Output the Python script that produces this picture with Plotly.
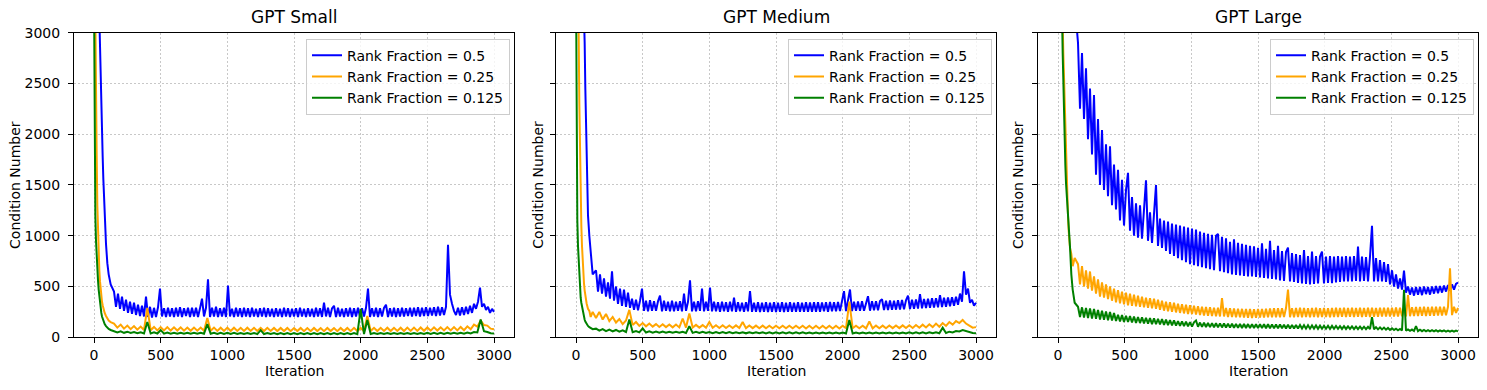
import plotly.graph_objects as go

# iterations: dense start, then a coarse grid (orange/green) and a finer one for the noisier curves
head = [0, 5, 10, 15, 20, 25, 30, 35, 40, 45, 50, 55, 60, 65, 70, 75, 80, 90, 100, 110, 125]
iters = head + list(range(150, 3001, 25))
iters_fine = head + list(range(150, 3001, 15))

# ---- GPT Small ----
small_050 = [9000, 8000, 7000, 6200, 5400, 4700, 4100, 3600, 3150, 2800, 2450, 2200, 2000, 1780, 1560, 1380, 1200, 920, 730, 620, 520,
             450, 300, 430, 280, 400, 260, 370, 240, 350, 230,
             340, 220, 320, 210, 310, 205, 400, 200, 300, 195,
             290, 200, 295, 480, 205, 285, 200, 290, 205, 285,
             200, 290, 205, 295, 200, 285, 210, 290, 200, 290,
             205, 290, 200, 285, 380, 205, 290, 570, 200, 290,
             205, 300, 200, 285, 205, 290, 200, 510, 205, 280,
             200, 290, 205, 285, 200, 290, 205, 285, 200, 290,
             205, 280, 200, 285, 205, 290, 200, 285, 205, 280,
             200, 285, 205, 280, 200, 290, 205, 285, 200, 280,
             205, 285, 200, 290, 205, 280, 200, 285, 205, 280,
             200, 290, 205, 285, 200, 340, 205, 290, 200, 285,
             310, 200, 290, 205, 280, 200, 285, 205, 290, 200,
             285, 205, 290, 200, 285, 205, 290, 480, 200, 285,
             205, 290, 200, 285, 205, 290, 320, 200, 285, 205,
             290, 200, 285, 205, 290, 205, 285, 210, 290, 205,
             290, 210, 295, 205, 290, 210, 295, 210, 290, 215,
             295, 210, 300, 215, 295, 220, 300, 910, 420, 330,
             260, 220, 290, 215, 295, 220, 300, 230, 310, 240,
             330, 280, 350, 490, 300, 330, 270, 300, 240, 280,
             250]
small_025 = [4500, 3600, 3000, 2350, 1800, 1300, 1000, 800, 660, 550, 460, 400, 350, 315, 285, 260, 240, 210, 185, 165, 150,
             135, 95, 125, 85, 115, 80, 110, 75, 105, 72,
             290, 70, 102, 68, 100, 68, 100, 66, 98, 66,
             98, 65, 96, 64, 96, 65, 95, 64, 190, 64,
             95, 63, 94, 63, 95, 62, 94, 63, 93, 62,
             94, 62, 93, 62, 92, 61, 93, 62, 92, 61,
             92, 61, 92, 60, 91, 61, 92, 60, 91, 60,
             92, 61, 91, 60, 92, 61, 91, 60, 92, 61,
             92, 60, 93, 61, 92, 60, 210, 62, 93, 61,
             93, 62, 94, 61, 93, 62, 94, 62, 95, 63,
             95, 63, 96, 64, 97, 65, 98, 66, 98, 67,
             100, 68, 100, 68, 102, 70, 108, 78, 125, 105,
             165, 120, 115, 85, 80]
small_0125 = [3400, 1600, 1200, 950, 780, 650, 560, 470, 400, 340, 280, 240, 205, 180, 160, 145, 130, 110, 95, 82, 72,
              62, 48, 58, 44, 55, 42, 52, 40, 50, 38,
              150, 38, 48, 37, 70, 36, 46, 36, 45, 35,
              45, 35, 44, 34, 44, 34, 44, 34, 130, 34,
              44, 33, 43, 33, 43, 33, 43, 32, 42, 32,
              42, 32, 42, 32, 70, 32, 42, 32, 42, 31,
              42, 31, 41, 31, 41, 31, 41, 31, 41, 31,
              41, 31, 41, 31, 41, 31, 41, 31, 41, 31,
              41, 31, 42, 31, 280, 32, 170, 32, 42, 32,
              42, 32, 42, 32, 42, 32, 42, 32, 42, 32,
              42, 32, 42, 33, 43, 33, 43, 33, 43, 33,
              44, 34, 44, 34, 45, 35, 47, 38, 52, 48,
              175, 60, 52, 40, 38]

# ---- GPT Medium ----
medium_050 = [9000, 8200, 7500, 6800, 6200, 5600, 5100, 4700, 4300, 3900, 3600, 3400, 3200, 2900, 2450, 2050, 1700, 1200, 1000, 860, 620,
              660, 450, 620, 430, 580, 400, 540, 380, 650, 360,
              500, 330, 480, 310, 470, 300, 440, 290, 380, 270,
              370, 265, 360, 480, 260, 360, 255, 365, 260, 355,
              260, 355, 410, 255, 360, 260, 350, 255, 360, 255,
              350, 260, 355, 255, 430, 260, 350, 560, 255, 350,
              255, 355, 260, 480, 255, 350, 260, 490, 255, 350,
              255, 345, 250, 350, 255, 345, 250, 350, 255, 390,
              250, 345, 255, 340, 250, 345, 255, 455, 250, 340,
              250, 345, 248, 340, 250, 345, 248, 340, 250, 345,
              248, 340, 250, 345, 248, 340, 250, 345, 250, 340,
              250, 345, 250, 340, 252, 345, 250, 342, 252, 345,
              252, 345, 252, 342, 255, 345, 252, 348, 255, 345,
              255, 348, 258, 350, 455, 258, 350, 470, 258, 350,
              260, 352, 260, 355, 262, 350, 405, 262, 355, 265,
              355, 265, 358, 375, 268, 360, 268, 362, 270, 360,
              272, 365, 272, 368, 275, 365, 410, 278, 370, 280,
              372, 282, 425, 285, 378, 288, 380, 290, 385, 292,
              385, 295, 415, 298, 390, 300, 392, 305, 395, 310,
              400, 320, 430, 350, 650, 420, 480, 340, 370, 310,
              340]
medium_025 = [6000, 5000, 4200, 3500, 3000, 2300, 1800, 1400, 1100, 900, 730, 620, 530, 460, 400, 360, 330, 280, 260, 200, 250,
              190, 250, 175, 230, 160, 200, 145, 180, 130, 165,
              270, 120, 150, 112, 140, 108, 135, 105, 130, 102,
              128, 100, 126, 98, 125, 97, 185, 96, 235, 96,
              122, 95, 120, 94, 150, 93, 118, 92, 118, 92,
              117, 91, 117, 91, 150, 90, 116, 90, 115, 89,
              115, 89, 114, 88, 114, 88, 114, 88, 114, 88,
              114, 88, 113, 87, 113, 87, 113, 87, 113, 87,
              113, 87, 113, 87, 114, 88, 350, 88, 114, 88,
              114, 88, 155, 88, 115, 89, 115, 89, 116, 90,
              116, 90, 117, 91, 118, 92, 120, 94, 124, 97,
              128, 100, 135, 104, 140, 112, 150, 125, 160, 140,
              170, 135, 115, 95, 100]
medium_0125 = [3500, 1500, 1150, 900, 730, 580, 470, 390, 340, 300, 260, 225, 195, 172, 155, 140, 128, 112, 100, 90, 80,
               85, 65, 80, 60, 75, 57, 72, 55, 68, 52,
               175, 50, 62, 48, 88, 47, 58, 46, 57, 45,
               56, 45, 55, 44, 55, 44, 54, 43, 110, 43,
               53, 42, 53, 42, 52, 41, 52, 41, 51, 40,
               51, 40, 50, 40, 50, 39, 50, 39, 49, 39,
               49, 38, 49, 38, 48, 38, 48, 38, 48, 38,
               48, 38, 48, 37, 47, 37, 47, 37, 47, 37,
               47, 37, 47, 37, 47, 37, 170, 37, 47, 37,
               47, 37, 47, 37, 47, 37, 47, 37, 47, 37,
               47, 37, 47, 37, 48, 38, 48, 38, 48, 38,
               49, 39, 50, 40, 95, 42, 55, 48, 62, 58,
               72, 60, 52, 42, 40]

# ---- GPT Large ----
large_050 = [12000, 11500, 11000, 10500, 10000, 9500, 9000, 8600, 8200, 7800, 7400, 7000, 6600, 6200, 5900, 5600, 5300, 4700, 4200, 3800, 3300,
             2900, 2250, 2800, 2150, 2650, 1950, 2450, 1800, 2385, 1600,
             2150, 1500, 2040, 1450, 1900, 1390, 1880, 1300, 1700, 1260,
             1650, 1150, 1550, 1100, 1450, 1620, 1050, 1380, 1000, 1320,
             980, 1300, 970, 1250, 1545, 950, 1230, 930, 1200, 1500,
             900, 1170, 880, 1150, 850, 1140, 820, 1120, 800, 1110,
             780, 1100, 760, 1090, 740, 1080, 720, 1070, 710, 1060,
             700, 1040, 690, 1030, 680, 1020, 670, 1010, 660, 1000,
             1018, 650, 990, 640, 975, 630, 940, 620, 965, 615,
             930, 610, 920, 605, 910, 600, 900, 600, 895, 595,
             880, 590, 925, 585, 870, 580, 950, 575, 860, 570,
             900, 560, 850, 555, 840, 883, 550, 830, 545, 820,
             535, 810, 530, 860, 525, 800, 520, 844, 525, 800,
             530, 795, 844, 530, 795, 535, 800, 532, 795, 540,
             800, 545, 795, 550, 800, 550, 795, 550, 800, 555,
             893, 550, 795, 555, 790, 550, 795, 1097, 550, 780,
             550, 760, 550, 740, 545, 720, 520, 660, 500, 620,
             480, 580, 470, 657, 440, 500, 420, 490, 410, 495,
             420, 495, 415, 500, 425, 495, 420, 500, 430, 505,
             435, 505, 440, 510, 450, 515, 460, 520, 470, 525,
             540]
large_025 = [9000, 8000, 7000, 6000, 5000, 4200, 3500, 3100, 2800, 2550, 2300, 2000, 1750, 1550, 1350, 1200, 1050, 880, 820, 700, 780,
             720, 520, 700, 500, 660, 480, 648, 460, 600, 430,
             570, 400, 540, 390, 520, 375, 500, 360, 480, 345,
             465, 335, 450, 325, 440, 315, 430, 310, 420, 305,
             410, 300, 400, 295, 390, 290, 385, 285, 380, 280,
             370, 270, 360, 262, 350, 255, 345, 250, 340, 245,
             330, 240, 325, 235, 320, 230, 315, 228, 310, 225,
             305, 220, 300, 215, 298, 212, 295, 210, 292, 208,
             290, 205, 385, 205, 288, 200, 285, 200, 283, 198,
             282, 196, 280, 195, 278, 192, 278, 190, 276, 192,
             278, 194, 280, 195, 282, 196, 284, 198, 285, 198,
             286, 198, 285, 200, 288, 470, 198, 286, 198, 288,
             200, 290, 198, 288, 200, 286, 198, 288, 200, 290,
             198, 286, 200, 288, 200, 285, 198, 288, 200, 290,
             200, 288, 202, 290, 200, 288, 202, 290, 200, 288,
             202, 290, 200, 288, 202, 292, 200, 290, 202, 288,
             202, 290, 204, 292, 205, 290, 204, 292, 205, 294,
             205, 292, 206, 294, 205, 415, 208, 296, 210, 298,
             210, 298, 212, 300, 210, 298, 212, 300, 212, 300,
             214, 300, 215, 302, 216, 300, 680, 218, 300, 240,
             290]
large_0125 = [8000, 7000, 6000, 5200, 4500, 3800, 3200, 2800, 2450, 2150, 1900, 1700, 1520, 1420, 1320, 1250, 1150, 890, 620, 470, 340,
              300, 200, 295, 195, 290, 190, 285, 185, 280, 182,
              270, 175, 262, 172, 255, 168, 248, 165, 240, 160,
              222, 155, 218, 152, 212, 150, 208, 146, 204, 142,
              200, 140, 196, 137, 192, 134, 188, 130, 186, 128,
              182, 126, 178, 122, 174, 120, 170, 117, 166, 115,
              160, 112, 157, 110, 154, 108, 150, 106, 148, 165,
              104, 145, 102, 143, 101, 141, 100, 139, 99, 138,
              98, 137, 97, 135, 96, 134, 95, 133, 94, 132,
              93, 131, 92, 131, 92, 130, 91, 130, 91, 129,
              90, 129, 90, 128, 89, 128, 89, 127, 88, 126,
              88, 125, 88, 124, 87, 123, 87, 122, 86, 121,
              86, 120, 86, 119, 85, 118, 85, 117, 85, 116,
              84, 115, 84, 114, 84, 113, 83, 112, 83, 111,
              83, 110, 82, 109, 82, 108, 82, 107, 81, 106,
              81, 105, 80, 104, 80, 103, 80, 197, 79, 100,
              78, 98, 77, 95, 75, 92, 73, 88, 71, 85,
              69, 82, 67, 467, 65, 78, 63, 76, 62, 111,
              60, 74, 60, 72, 59, 71, 58, 70, 58, 69,
              57, 68, 57, 67, 56, 66, 56, 66, 55, 65,
              58]

titles = ["GPT Small", "GPT Medium", "GPT Large"]
panels = [[small_050, small_025, small_0125],
          [medium_050, medium_025, medium_0125],
          [large_050, large_025, large_0125]]
fractions = ["0.5", "0.25", "0.125"]
colors = ["#0000ff", "#ffa500", "#008000"]
x_ticks = [0, 500, 1000, 1500, 2000, 2500, 3000]
y_ticks = [0, 500, 1000, 1500, 2000, 2500, 3000]

W, H = 1487, 390
x_px = [(74, 514), (556, 996), (1038, 1478)]


def py(y):
    # screen row -> paper fraction (the page comes out ~4% squashed vertically, offset ~8px)
    return 1 - ((y - 8.4) / 0.957) / H


y_dom = [py(337), py(33)]
FONT = "DejaVu Sans"

fig = go.Figure()
annotations = []
for i, series in enumerate(panels):
    n = "" if i == 0 else str(i + 1)
    for frac, col, vals in zip(fractions, colors, series):
        xs = iters_fine if len(vals) == len(iters_fine) else iters
        assert len(vals) == len(xs), (titles[i], frac, len(vals))
        fig.add_trace(go.Scatter(
            x=xs, y=vals, mode="lines", line=dict(color=col, width=2),
            name=f"Rank Fraction = {frac}", xaxis="x" + n, yaxis="y" + n,
            legend="legend" + n))

    left, right = x_px[i]
    axis_common = dict(showline=True, mirror=True, linecolor="black", linewidth=1,
                       ticks="outside", ticklen=5, tickcolor="black", tickwidth=1,
                       showgrid=True, gridcolor="#c8c8c8", gridwidth=1, griddash="2px,2px",
                       zeroline=False, tickfont=dict(family=FONT, size=14, color="black"))
    fig.update_layout({
        "xaxis" + n: dict(domain=[left / W, right / W], anchor="y" + n, range=[-150, 3150],
                          tickvals=x_ticks, **axis_common),
        "yaxis" + n: dict(domain=y_dom, anchor="x" + n, range=[0, 3000], tickvals=y_ticks,
                          showticklabels=(i == 0), ticklabelstandoff=5, **axis_common),
        "legend" + n: dict(x=(right - 4) / W, y=py(39), xanchor="right", yanchor="top",
                           bgcolor="rgba(255,255,255,0.8)", bordercolor="#cccccc", borderwidth=1,
                           font=dict(family=FONT, size=14, color="black")),
    })

    cx = (left + right) / 2 / W
    annotations.append(dict(text=titles[i], x=cx, y=py(17.5), xref="paper", yref="paper",
                            showarrow=False, xanchor="center", yanchor="middle",
                            font=dict(family=FONT, size=17, color="black")))
    annotations.append(dict(text="Iteration", x=cx, y=py(371), xref="paper", yref="paper",
                            showarrow=False, xanchor="center", yanchor="middle",
                            font=dict(family=FONT, size=14, color="black")))
    ylab_x = [15, 537.7, 1018][i]
    annotations.append(dict(text="Condition Number", x=ylab_x / W, y=(y_dom[0] + y_dom[1]) / 2,
                            xref="paper", yref="paper", showarrow=False, textangle=-90,
                            xanchor="center", yanchor="middle",
                            font=dict(family=FONT, size=14, color="black")))

fig.update_layout(width=W, height=H, autosize=False, margin=dict(l=0, r=0, t=0, b=0),
                  paper_bgcolor="white", plot_bgcolor="white", annotations=annotations,
                  showlegend=True)

fig.write_html("out.html", config={"displayModeBar": False},
               post_script="document.body.style.margin='0';document.body.style.overflow='hidden';")
